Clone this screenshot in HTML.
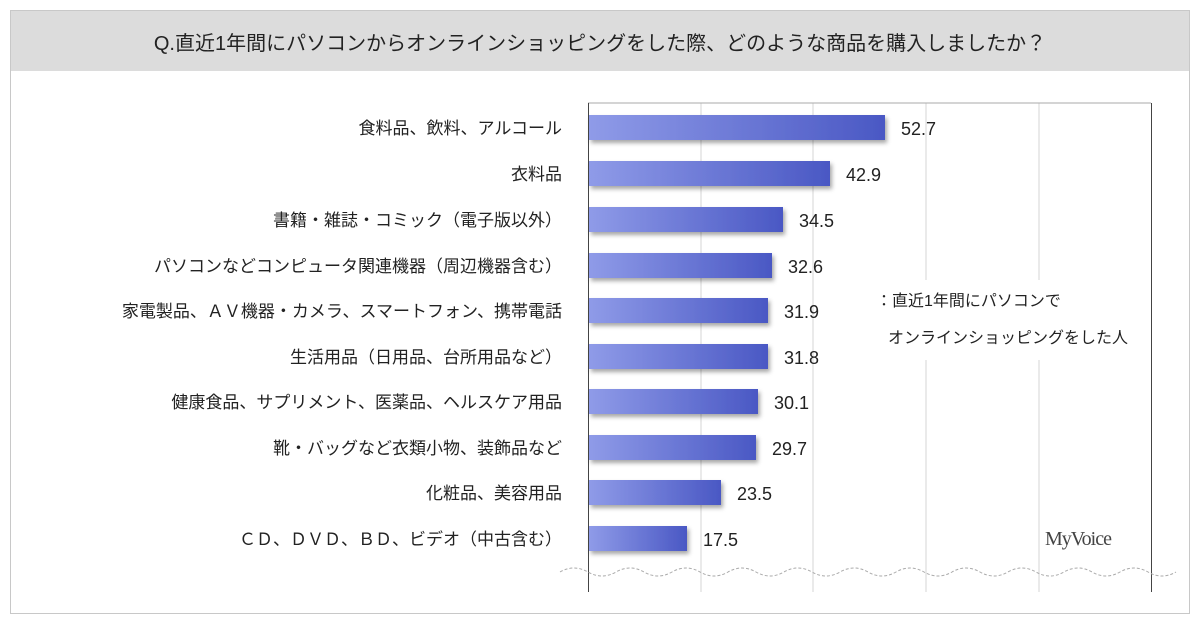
<!DOCTYPE html>
<html><head><meta charset="utf-8"><style>
body{margin:0;background:#fff;width:1200px;height:630px;overflow:hidden;font-family:"Liberation Sans","Noto Sans CJK JP",sans-serif;}
</style></head><body>
<svg width="1200" height="630" xmlns="http://www.w3.org/2000/svg" font-family="Liberation Sans, Noto Sans CJK JP, sans-serif">
<defs>
<linearGradient id="g" x1="0" x2="1" y1="0" y2="0"><stop offset="0" stop-color="#8f9be8"/><stop offset="1" stop-color="#4a58c4"/></linearGradient>
<filter id="s" x="-5%" y="-30%" width="115%" height="180%"><feDropShadow dx="2" dy="3" stdDeviation="2" flood-color="#000" flood-opacity="0.35"/></filter>
</defs>
<rect x="10.5" y="10.5" width="1179" height="603" fill="#fff" stroke="#c8c8c8"/>
<rect x="11" y="11" width="1178" height="60" fill="#dcdcdc"/>
<text x="600" y="50" font-size="20" text-anchor="middle" fill="#222">Q.直近1年間にパソコンからオンラインショッピングをした際、どのような商品を購入しましたか？</text>
<g stroke="#d4d4d4" stroke-width="1">
<line x1="701" y1="103" x2="701" y2="592"/><line x1="813" y1="103" x2="813" y2="592"/><line x1="926" y1="103" x2="926" y2="592"/><line x1="1039" y1="103" x2="1039" y2="592"/>
</g>
<line x1="588" y1="103" x2="1151" y2="103" stroke="#aaa"/>
<line x1="588.5" y1="103" x2="588.5" y2="592" stroke="#444"/>
<line x1="1151.5" y1="103" x2="1151.5" y2="592" stroke="#444"/>
<rect x="862" y="280" width="200" height="80" fill="#fff"/>
<g filter="url(#s)" fill="url(#g)">
<rect x="589" y="115" width="296" height="25"/>
<rect x="589" y="161" width="241" height="25"/>
<rect x="589" y="207" width="194" height="25"/>
<rect x="589" y="253" width="183" height="25"/>
<rect x="589" y="298" width="179" height="25"/>
<rect x="589" y="344" width="179" height="25"/>
<rect x="589" y="389" width="169" height="25"/>
<rect x="589" y="435" width="167" height="25"/>
<rect x="589" y="480" width="132" height="25"/>
<rect x="589" y="526" width="98" height="25"/>
</g>
<g font-size="18" fill="#222">
<text x="901" y="135">52.7</text><text x="846" y="181">42.9</text><text x="799" y="227">34.5</text><text x="788" y="273">32.6</text><text x="784" y="318">31.9</text><text x="784" y="364">31.8</text><text x="774" y="409">30.1</text><text x="772" y="455">29.7</text><text x="737" y="500">23.5</text><text x="703" y="546">17.5</text>
</g>
<g font-size="17" fill="#222" text-anchor="end">
<text x="562" y="134">食料品、飲料、アルコール</text>
<text x="562" y="180">衣料品</text>
<text x="562" y="226">書籍・雑誌・コミック（電子版以外）</text>
<text x="562" y="272">パソコンなどコンピュータ関連機器（周辺機器含む）</text>
<text x="562" y="317">家電製品、ＡＶ機器・カメラ、スマートフォン、携帯電話</text>
<text x="562" y="363">生活用品（日用品、台所用品など）</text>
<text x="562" y="408">健康食品、サプリメント、医薬品、ヘルスケア用品</text>
<text x="562" y="454">靴・バッグなど衣類小物、装飾品など</text>
<text x="562" y="499">化粧品、美容用品</text>
<text x="562" y="545">ＣＤ、ＤＶＤ、ＢＤ、ビデオ（中古含む）</text>
</g>
<text x="876" y="306" font-size="16" fill="#222">：直近1年間にパソコンで</text>
<text x="888" y="343" font-size="16" fill="#222">オンラインショッピングをした人</text>
<text x="1045" y="545" font-size="20" fill="#444" font-family="Liberation Serif, serif" letter-spacing="-1">MyVoice</text>
<path d="M560 572 q14 -8 28 0 t28 0 t28 0 t28 0 t28 0 t28 0 t28 0 t28 0 t28 0 t28 0 t28 0 t28 0 t28 0 t28 0 t28 0 t28 0 t28 0 t28 0 t28 0 t28 0 t28 0 t28 0" fill="none" stroke="#aaa" stroke-dasharray="3 2"/>
</svg>
</body></html>
